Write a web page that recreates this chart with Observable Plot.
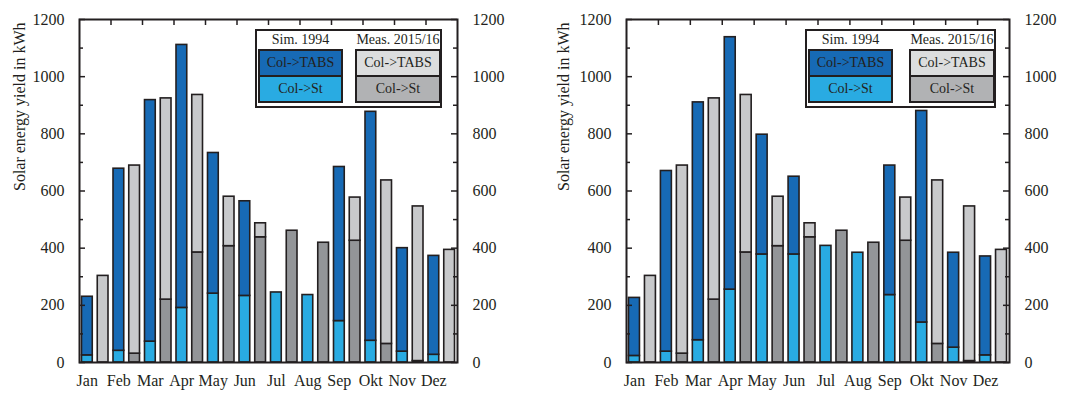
<!DOCTYPE html>
<html><head><meta charset="utf-8">
<script src="https://cdn.jsdelivr.net/npm/d3@7"></script>
<script src="https://cdn.jsdelivr.net/npm/@observablehq/plot@0.6"></script>
<style>
body{margin:0;background:#fff;}
#wrap{position:relative;width:1072px;height:394px;display:flex;font-family:"Liberation Serif","Times New Roman",serif;color:#231f20;}
#wrap svg{display:block;}
.leg{position:absolute;box-sizing:border-box;border:2px solid #231f20;background:#fff;font-family:"Liberation Serif","Times New Roman",serif;}
.hdr{position:absolute;font-size:14px;line-height:14px;text-align:center;white-space:nowrap;}
.sw{position:absolute;box-sizing:border-box;border:2px solid #231f20;font-size:14px;display:flex;align-items:center;justify-content:center;white-space:nowrap;}
</style></head><body><div id="wrap"></div>
<script>
const months = ["Jan","Feb","Mar","Apr","May","Jun","Jul","Aug","Sep","Okt","Nov","Dez"];
// Panel A (left): Simulation 1994
const simStA   = [25, 41, 73, 191, 241, 233, 245, 236, 145, 76, 38, 27];
const simTabsA = [205, 637, 845, 920, 492, 331, 0, 0, 539, 801, 362, 346];
// Panel B (right): Simulation 1994
const simStB   = [23, 38, 78, 255, 378, 378, 408, 384, 236, 140, 52, 25];
const simTabsB = [203, 632, 832, 883, 419, 272, 0, 0, 453, 740, 332, 346];
// Measurement 2015/16 (both panels)
const measSt   = [0, 31, 220, 385, 407, 438, 461, 419, 426, 65, 5, 0];
const measTabs = [303, 658, 704, 551, 173, 49, 0, 0, 151, 572, 541, 394];
const yTicks = [0, 200, 400, 600, 800, 1000, 1200];
const yMinor = [100, 300, 500, 700, 900, 1100];
const yLabel = "Solar energy yield in kWh";
const legendHeaders = ["Sim. 1994", "Meas. 2015/16"];
const legendItems = ["Col->TABS", "Col->St"];

const C = {simTabs:"#176ab5", simSt:"#29abe2", measTabs:"#c8c9cb", measSt:"#939598",
           legMeasTabs:"#dcddde", legMeasSt:"#b1b2b4", ink:"#231f20"};

function panel(simSt, simTabs, ml, mr, labelDx) {
  const W = 536, H = 394, mt = 19, mb = 32;
  const fw = W - ml - mr, fh = H - mt - mb;
  const rows = [];
  months.forEach((m, i) => {
    rows.push({bar: 2*i, y1: 0, y2: simSt[i], fill: C.simSt});
    rows.push({bar: 2*i, y1: simSt[i], y2: simSt[i] + simTabs[i], fill: C.simTabs});
    rows.push({bar: 2*i+1, y1: 0, y2: measSt[i], fill: C.measSt});
    rows.push({bar: 2*i+1, y1: measSt[i], y2: measSt[i] + measTabs[i], fill: C.measTabs});
  });
  const segs = rows.filter(r => r.y2 > r.y1);
  const centers = months.map((m, i) => 2*i + 1);
  const bounds = months.slice(1).map((m, i) => 2*(i+1));
  return Plot.plot({
    width: W, height: H, marginLeft: ml, marginRight: mr, marginTop: mt, marginBottom: mb,
    x: {domain: [0, 24]}, y: {domain: [0, 1200]}, color: {type: "identity"},
    style: {fontFamily: '"Liberation Serif", "Times New Roman", serif', fontSize: "16px", color: C.ink, background: "transparent", overflow: "visible"},
    marks: [
      Plot.rect(segs, {x1: "bar", x2: d => d.bar + 1, y1: "y1", y2: "y2", fill: "fill", stroke: C.ink, strokeWidth: 1.6, insetLeft: 2.5, insetRight: 2.5}),
      Plot.tickY(yTicks, {y: d => d, insetRight: fw - 6, stroke: C.ink, strokeWidth: 1.5}),
      Plot.tickY(yMinor, {y: d => d, insetRight: fw - 4, stroke: C.ink, strokeWidth: 1.5}),
      Plot.tickY(yTicks, {y: d => d, insetLeft: fw - 6, stroke: C.ink, strokeWidth: 1.5}),
      Plot.tickY(yMinor, {y: d => d, insetLeft: fw - 4, stroke: C.ink, strokeWidth: 1.5}),
      Plot.tickX(bounds, {x: d => d, insetBottom: fh - 6, stroke: C.ink, strokeWidth: 1.5}),
      Plot.frame({stroke: C.ink, strokeWidth: 2}),
      Plot.axisY(yTicks, {anchor: "left", tickSize: 0, tickPadding: 15, tickFormat: d => String(d), label: null}),
      Plot.axisY(yTicks, {anchor: "right", tickSize: 0, tickPadding: 15, tickFormat: d => String(d), label: null}),
      Plot.axisX(centers, {anchor: "bottom", tickFormat: d => months[(d - 1) / 2], tickSize: 0, tickPadding: 12, dx: -8, label: null}),
      Plot.text([yLabel], {frameAnchor: "left", rotate: -90, dx: labelDx, fontSize: 16, fill: C.ink})
    ]
  });
}

const wrap = document.getElementById("wrap");
wrap.appendChild(panel(simStA, simTabsA, 79, 79, -60));
wrap.appendChild(panel(simStB, simTabsB, 90, 63, -63));

function legend(left, width) {
  const top = 29, height = 79;
  const box = document.createElement("div");
  box.className = "leg";
  Object.assign(box.style, {left: left + "px", top: top + "px", width: width + "px", height: height + "px"});
  const cols = [
    {x: 1, w: 85, fills: [C.simTabs, C.simSt]},
    {x: width - 89, w: 86, fills: [C.legMeasTabs, C.legMeasSt]}
  ];
  cols.forEach((c, k) => {
    const h = document.createElement("div");
    h.className = "hdr";
    h.textContent = legendHeaders[k];
    Object.assign(h.style, {left: c.x + "px", width: c.w + "px", top: "2px"});
    box.appendChild(h);
    legendItems.forEach((t, j) => {
      const s = document.createElement("div");
      s.className = "sw";
      s.textContent = t;
      Object.assign(s.style, {left: c.x + "px", width: c.w + "px", top: (18 + j*26) + "px", height: "28px", background: c.fills[j]});
      box.appendChild(s);
    });
  });
  wrap.appendChild(box);
}
legend(255, 187);
legend(805, 191);
</script></body></html>
